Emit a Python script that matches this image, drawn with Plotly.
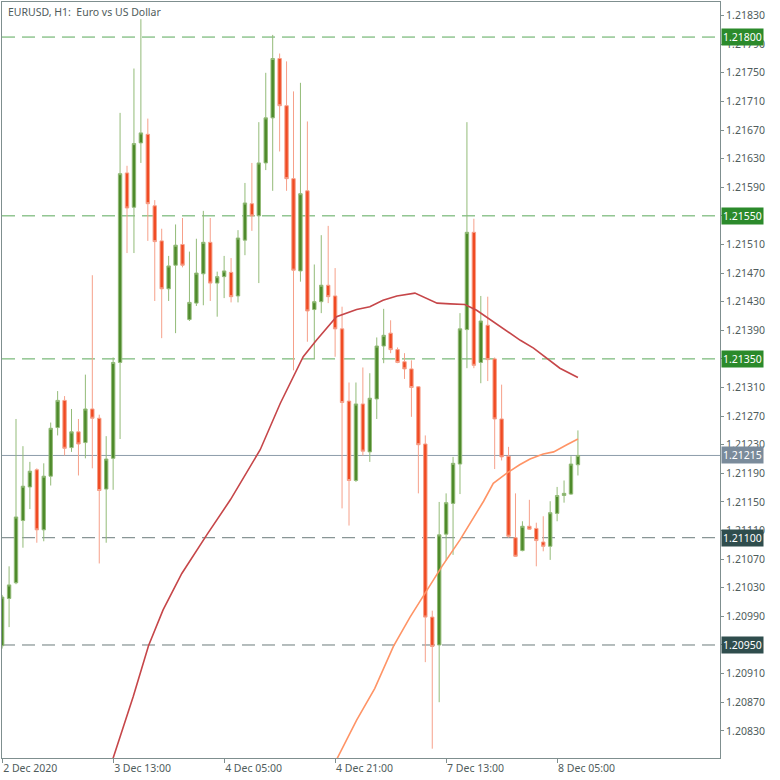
import plotly.graph_objects as go

# ---------------- data ----------------
bars = list(range(84))
opens = [1.20949, 1.21015, 1.21037, 1.21124, 1.21171, 1.21195, 1.21111, 1.21186, 1.21254, 1.21292,
         1.21226, 1.21248, 1.21233, 1.21280, 1.21267, 1.21168, 1.21211, 1.21345, 1.21610, 1.21562,
         1.21652, 1.21664, 1.21564, 1.21515, 1.21448, 1.21481, 1.21510, 1.21405, 1.21428, 1.21469,
         1.21513, 1.21456, 1.21465, 1.21471, 1.21438, 1.21516, 1.21567, 1.21550, 1.21624, 1.21687,
         1.21770, 1.21704, 1.21602, 1.21473, 1.21585, 1.21419, 1.21430, 1.21453, 1.21438, 1.21392,
         1.21291, 1.21180, 1.21287, 1.21220, 1.21294, 1.21368, 1.21386, 1.21363, 1.21346, 1.21336,
         1.21311, 1.21231, 1.20989, 1.20950, 1.21105, 1.21148, 1.21203, 1.21391, 1.21527, 1.21345,
         1.21397, 1.21350, 1.21266, 1.21214, 1.21100, 1.21082, 1.21116, 1.21113, 1.21094, 1.21088,
         1.21134, 1.21159, 1.21161, 1.21202]
highs = [1.21020, 1.21060, 1.21266, 1.21228, 1.21206, 1.21197, 1.21204, 1.21261, 1.21305, 1.21298,
         1.21280, 1.21266, 1.21328, 1.21467, 1.21272, 1.21242, 1.21352, 1.21694, 1.21620, 1.21756,
         1.21825, 1.21686, 1.21572, 1.21532, 1.21494, 1.21538, 1.21547, 1.21500, 1.21518, 1.21557,
         1.21547, 1.21472, 1.21494, 1.21491, 1.21530, 1.21596, 1.21624, 1.21681, 1.21750, 1.21803,
         1.21777, 1.21766, 1.21724, 1.21736, 1.21682, 1.21482, 1.21523, 1.21536, 1.21477, 1.21423,
         1.21317, 1.21317, 1.21338, 1.21330, 1.21380, 1.21420, 1.21404, 1.21366, 1.21358, 1.21348,
         1.21312, 1.21243, 1.20998, 1.21150, 1.21162, 1.21213, 1.21414, 1.21681, 1.21546, 1.21438,
         1.21437, 1.21352, 1.21314, 1.21227, 1.21162, 1.21123, 1.21153, 1.21121, 1.21130, 1.21151,
         1.21171, 1.21180, 1.21214, 1.21250]
lows = [1.20945, 1.20975, 1.21035, 1.21086, 1.21140, 1.21093, 1.21095, 1.21173, 1.21243, 1.21215,
        1.21220, 1.21187, 1.21211, 1.21197, 1.21064, 1.21093, 1.21167, 1.21238, 1.21498, 1.21498,
        1.21624, 1.21515, 1.21431, 1.21379, 1.21431, 1.21386, 1.21478, 1.21403, 1.21424, 1.21425,
        1.21431, 1.21409, 1.21435, 1.21429, 1.21429, 1.21495, 1.21529, 1.21456, 1.21614, 1.21585,
        1.21640, 1.21585, 1.21334, 1.21458, 1.21374, 1.21350, 1.21414, 1.21428, 1.21353, 1.21141,
        1.21117, 1.21178, 1.21215, 1.21206, 1.21266, 1.21344, 1.21358, 1.21344, 1.21322, 1.21269,
        1.21162, 1.20926, 1.20805, 1.20870, 1.21068, 1.21076, 1.21161, 1.21337, 1.21337, 1.21316,
        1.21319, 1.21196, 1.21208, 1.21100, 1.21073, 1.21081, 1.21111, 1.21060, 1.21081, 1.21069,
        1.21123, 1.21149, 1.21160, 1.21187]
closes = [1.21017, 1.21034, 1.21129, 1.21172, 1.21193, 1.21111, 1.21186, 1.21253, 1.21292, 1.21225,
          1.21248, 1.21231, 1.21280, 1.21267, 1.21166, 1.21210, 1.21345, 1.21609, 1.21561, 1.21651,
          1.21666, 1.21567, 1.21514, 1.21448, 1.21480, 1.21509, 1.21481, 1.21429, 1.21470, 1.21513,
          1.21456, 1.21465, 1.21473, 1.21437, 1.21519, 1.21568, 1.21550, 1.21624, 1.21687, 1.21770,
          1.21704, 1.21602, 1.21474, 1.21581, 1.21417, 1.21430, 1.21453, 1.21437, 1.21392, 1.21289,
          1.21180, 1.21287, 1.21221, 1.21295, 1.21368, 1.21383, 1.21363, 1.21345, 1.21336, 1.21310,
          1.21230, 1.20989, 1.20948, 1.21104, 1.21149, 1.21204, 1.21392, 1.21527, 1.21341, 1.21403,
          1.21349, 1.21266, 1.21213, 1.21102, 1.21074, 1.21116, 1.21112, 1.21096, 1.21088, 1.21135,
          1.21159, 1.21162, 1.21203, 1.21215]

ma_slow_bars = [15.6, 18.9, 21.1, 23.2, 25.9, 29.5, 32.9, 37.2, 40.1, 43.4, 45.3, 48.2, 51.1, 53.0,
                54.9, 56.9, 59.5, 61.2, 62.7, 64.6, 66.7, 68.4, 70.8, 73.2, 74.7, 76.6, 78.5, 80.4, 83.0]
ma_slow = [1.20780, 1.20878, 1.20949, 1.20999, 1.21050, 1.21104, 1.21153, 1.21223, 1.21288, 1.21353,
           1.21376, 1.21409, 1.21419, 1.21423, 1.21432, 1.21438, 1.21442, 1.21435, 1.21428, 1.21427,
           1.21426, 1.21418, 1.21402, 1.21386, 1.21376, 1.21365, 1.21351, 1.21337, 1.21324]

ma_fast_bars = [47.7, 51.1, 53.7, 56.4, 58.8, 61.2, 63.4, 66.0, 69.4, 70.8, 72.7, 74.6, 76.1, 78.0,
                79.5, 81.4, 83.0]
ma_fast = [1.20780, 1.20845, 1.20889, 1.20948, 1.20989, 1.21027, 1.21060, 1.21097, 1.21151, 1.21176,
           1.21190, 1.21202, 1.21210, 1.21217, 1.21220, 1.21230, 1.21238]

tick_bars = [0, 16, 32, 48, 64, 80]
tick_labels = ["2 Dec 2020", "3 Dec 13:00", "4 Dec 05:00", "4 Dec 21:00", "7 Dec 13:00", "8 Dec 05:00"]

y_ticks = [1.20830, 1.20870, 1.20910, 1.20950, 1.20990, 1.21030, 1.21070, 1.21110, 1.21150, 1.21190,
           1.21230, 1.21270, 1.21310, 1.21350, 1.21390, 1.21430, 1.21470, 1.21510, 1.21550, 1.21590,
           1.21630, 1.21670, 1.21710, 1.21750, 1.21790, 1.21830]

green_levels = [1.21800, 1.21550, 1.21350]
gray_levels = [1.21100, 1.20950]
last_price = 1.21215

title_text = "EURUSD, H1:  Euro vs US Dollar"

# ---------------- figure ----------------
FONT = "Noto Sans"
AXIS_COL = "#7f8f8f"
TXT_COL = "#4f5c5c"
FS = 10.5

fig = go.Figure()

fig.add_trace(go.Candlestick(
    x=bars, open=opens, high=highs, low=lows, close=closes,
    increasing=dict(line=dict(color="#93bb78", width=1), fillcolor="#4e8a2b"),
    decreasing=dict(line=dict(color="#f6a08a", width=1), fillcolor="#f04a22"),
    whiskerwidth=0, showlegend=False, hoverinfo="skip",
))

fig.add_trace(go.Scatter(x=ma_slow_bars, y=ma_slow, mode="lines",
                         line=dict(color="#c64649", width=1.6), showlegend=False, hoverinfo="skip"))
fig.add_trace(go.Scatter(x=ma_fast_bars, y=ma_fast, mode="lines",
                         line=dict(color="#ff9466", width=1.6), showlegend=False, hoverinfo="skip"))

shapes = []
for lv in green_levels:
    shapes.append(dict(type="line", xref="paper", x0=0, x1=1, yref="y", y0=lv, y1=lv,
                       line=dict(color="#5aa85a", width=1, dash="13px,7px"), layer="below"))
for lv in gray_levels:
    shapes.append(dict(type="line", xref="paper", x0=0, x1=1, yref="y", y0=lv, y1=lv,
                       line=dict(color="#6b7c7c", width=1, dash="13px,7px"), layer="below"))
shapes.append(dict(type="line", xref="paper", x0=0, x1=1, yref="y", y0=last_price, y1=last_price,
                   line=dict(color="#8d9caa", width=1), layer="below"))

annotations = []
def price_label(v, bg):
    annotations.append(dict(xref="paper", x=1, xanchor="left", xshift=1, yref="y", y=v,
                            yanchor="middle", text=f"{v:.5f}", showarrow=False,
                            bgcolor=bg, borderpad=1,
                            font=dict(family=FONT, size=FS, color="white")))
for lv in green_levels:
    price_label(lv, "#2b8a2b")
price_label(last_price, "#7a8b9b")
for lv in gray_levels:
    price_label(lv, "#2f4d4d")

annotations.append(dict(xref="paper", yref="paper", x=0, y=1, xanchor="left", yanchor="top",
                        xshift=4, yshift=-1, text=title_text, showarrow=False,
                        font=dict(family=FONT, size=FS, color=TXT_COL)))

# tick labels hidden under level boxes (as in the reference)
covered = set(round(v, 5) for v in green_levels + gray_levels)
y_ticktext = ["" if round(v, 5) in covered else f"{v:.5f}" for v in y_ticks]

fig.update_layout(
    width=780, height=780, autosize=False,
    margin=dict(l=2, r=60, t=2, b=22),
    paper_bgcolor="white", plot_bgcolor="white",
    shapes=shapes, annotations=annotations,
    font=dict(family=FONT, size=FS, color=TXT_COL),
    xaxis=dict(type="linear", range=[-0.02, 103.48], rangeslider=dict(visible=False),
               showgrid=False, zeroline=False, showline=True, mirror=True,
               linecolor=AXIS_COL, linewidth=1,
               tickmode="array", tickvals=tick_bars, ticktext=tick_labels,
               ticks="outside", ticklen=4, tickcolor=AXIS_COL,
               ticklabelposition="outside right",
               tickfont=dict(family=FONT, size=FS, color=TXT_COL)),
    yaxis=dict(side="right", range=[1.20792, 1.21849], showgrid=False, zeroline=False,
               showline=True, mirror=True, linecolor=AXIS_COL, linewidth=1,
               tickmode="array", tickvals=y_ticks, ticktext=y_ticktext,
               ticks="outside", ticklen=3, tickcolor=AXIS_COL,
               tickfont=dict(family=FONT, size=FS, color=TXT_COL)),
    hovermode=False,
)

fig.write_html("out.html", config={"displayModeBar": False},
               post_script="document.body.style.margin='0';document.body.style.overflow='hidden';")
